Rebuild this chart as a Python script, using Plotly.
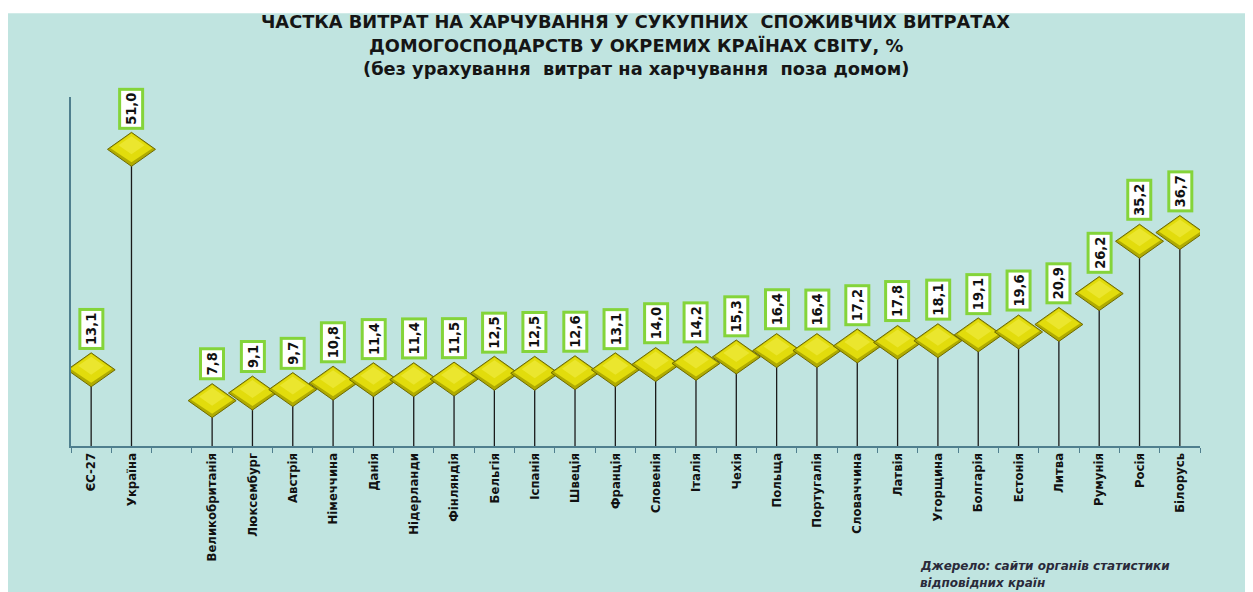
import plotly.graph_objects as go

categories = ["ЄС-27", "Україна", " ", "Великобританія", "Люксембург", "Австрія",
              "Німеччина", "Данія", "Нідерланди", "Фінляндія", "Бельгія", "Іспанія",
              "Швеція", "Франція", "Словенія", "Італія", "Чехія", "Польща", "Португалія",
              "Словаччина", "Латвія", "Угорщина", "Болгарія", "Естонія", "Литва",
              "Румунія", "Росія", "Білорусь"]
values = [13.1, 51.0, None, 7.8, 9.1, 9.7, 10.8, 11.4, 11.4, 11.5, 12.5, 12.5, 12.6,
          13.1, 14.0, 14.2, 15.3, 16.4, 16.4, 17.2, 17.8, 18.1, 19.1, 19.6, 20.9,
          26.2, 35.2, 36.7]
title_lines = ["ЧАСТКА ВИТРАТ НА ХАРЧУВАННЯ У СУКУПНИХ  СПОЖИВЧИХ ВИТРАТАХ",
               "ДОМОГОСПОДАРСТВ У ОКРЕМИХ КРАЇНАХ СВІТУ, %",
               "(без урахування  витрат на харчування  поза домом)"]
source_lines = ["Джерело: сайти органів статистики", "відповідних країн"]

BG = "#c0e4e0"
AXIS = "#4f7f8e"
LBL_FONT = "DejaVu Sans Condensed, Lato"

fig = go.Figure()

pts = [(i, v) for i, v in enumerate(values) if v is not None]

# drop lines via error bars
fig.add_trace(go.Scatter(
    x=[categories[i] for i, v in pts], y=[v for i, v in pts],
    mode="markers", marker=dict(size=1, color="rgba(0,0,0,0)"),
    error_y=dict(type="data", symmetric=False, array=[0] * len(pts),
                 arrayminus=[v for i, v in pts], width=0, thickness=1.3,
                 color="#1a1a1a"),
    hoverinfo="skip", showlegend=False))

shapes = []
# background panel
shapes.append(dict(type="rect", xref="paper", yref="paper", x0=-0.057, x1=1.05,
                   y0=-0.45, y1=1.24, fillcolor=BG, line=dict(width=0), layer="below"))
# diamonds
for i, v in pts:
    shapes.append(dict(type="path", xref="x", yref="y", xsizemode="pixel", ysizemode="pixel",
                       xanchor=i, yanchor=v, path="M -24 0 L 0 17 L 24 0 L 0 -17 Z",
                       fillcolor="#b0ab00", line=dict(color="#6e6a00", width=1), layer="above"))
    shapes.append(dict(type="path", xref="x", yref="y", xsizemode="pixel", ysizemode="pixel",
                       xanchor=i, yanchor=v, path="M -21 1 L 0 16 L 21 1 L 0 -13 Z",
                       fillcolor="#e2dc0c", line=dict(width=0), layer="above"))
    shapes.append(dict(type="path", xref="x", yref="y", xsizemode="pixel", ysizemode="pixel",
                       xanchor=i, yanchor=v, path="M -13 4 L 0 13 L 13 4 L 0 -5 Z",
                       fillcolor="#ebe62e", line=dict(width=0), layer="above"))

annotations = []
for i, v in pts:
    annotations.append(dict(x=categories[i], y=v, xref="x", yref="y",
                            text=f"{v:.1f}".replace(".", ","), showarrow=False,
                            textangle=-90, yanchor="bottom", yshift=20,
                            font=dict(family=LBL_FONT, size=14.5,
                                      color="#111", weight="bold"),
                            bgcolor="white", bordercolor="#84d43a", borderwidth=3,
                            borderpad=2))

title_y = [1.217, 1.148, 1.082]
for t, yy in zip(title_lines, title_y):
    annotations.append(dict(x=0.5, y=yy, xref="paper", yref="paper", text=t,
                            showarrow=False, xanchor="center", yanchor="middle",
                            font=dict(family="DejaVu Sans", size=17.8, color="#151515",
                                      weight="bold")))

for t, yy in zip(source_lines, [-0.345, -0.392]):
    annotations.append(dict(x=0.75, y=yy, xref="paper", yref="paper", text=f"<i>{t}</i>",
                            showarrow=False, xanchor="left", yanchor="middle",
                            font=dict(family="DejaVu Sans", size=12, color="#2a2a3a",
                                      weight="bold")))

fig.update_layout(
    width=1245, height=584, autosize=False,
    margin=dict(l=63, r=53, t=89, b=146, autoexpand=False),
    paper_bgcolor="white", plot_bgcolor="rgba(0,0,0,0)",
    shapes=shapes, annotations=annotations, showlegend=False,
    xaxis=dict(type="category", categoryorder="array", categoryarray=categories,
               range=[-0.5, len(categories) - 0.5], showline=True, linecolor=AXIS,
               linewidth=1.5, ticks="outside", tickson="boundaries", ticklen=5,
               tickcolor=AXIS, tickangle=-90, showgrid=False, zeroline=False,
               automargin=False,
               tickfont=dict(family=LBL_FONT, size=13, color="#111", weight="bold")),
    yaxis=dict(range=[0, 60], showline=True, linecolor=AXIS, linewidth=1.5,
               showticklabels=False, ticks="", showgrid=False, zeroline=False,
               automargin=False),
)

fig.write_html("out.html")
